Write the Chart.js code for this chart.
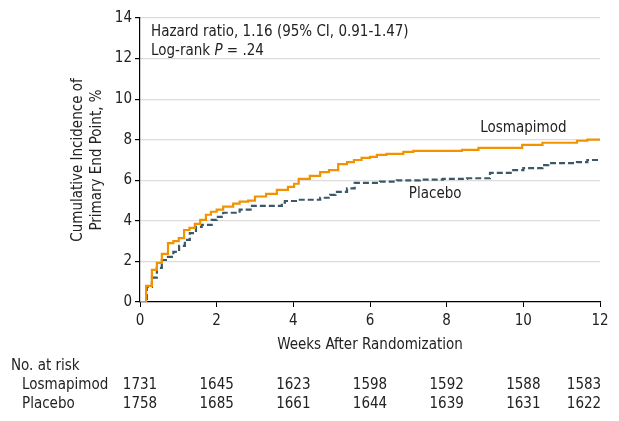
<!DOCTYPE html>
<html>
<head>
<meta charset="utf-8">
<script src="https://cdn.jsdelivr.net/npm/chart.js@4/dist/chart.umd.min.js"></script>
<style>
  html, body { margin: 0; padding: 0; background: #fff; }
  #wrap { width: 619px; height: 421px; }
</style>
</head>
<body>
<div id="wrap"><canvas id="km"></canvas></div>
<script>
// step times (weeks) and cumulative incidence (%)
const losWeeks = [0, 0.16, 0.31, 0.44, 0.57, 0.73, 0.87, 1.01, 1.15, 1.29, 1.43, 1.57, 1.72, 1.85, 2.0, 2.17, 2.43, 2.6, 2.82, 3.0, 3.29, 3.57, 3.86, 4.02, 4.14, 4.43, 4.7, 4.93, 5.17, 5.4, 5.58, 5.78, 6.0, 6.18, 6.43, 6.87, 7.13, 8.4, 8.83, 9.97, 10.5, 11.4, 11.67, 12];
const losPct   = [0, 0.79, 1.58, 1.93, 2.37, 2.9, 3.0, 3.15, 3.55, 3.65, 3.85, 4.05, 4.3, 4.45, 4.55, 4.7, 4.85, 4.95, 5.0, 5.2, 5.33, 5.53, 5.68, 5.83, 6.07, 6.22, 6.4, 6.5, 6.8, 6.9, 7.0, 7.1, 7.15, 7.25, 7.3, 7.4, 7.45, 7.5, 7.6, 7.75, 7.85, 7.95, 8.0, 8.0];

const plaWeeks = [0, 0.18, 0.31, 0.44, 0.57, 0.73, 0.87, 1.02, 1.17, 1.3, 1.46, 1.61, 1.87, 2.0, 2.17, 2.6, 2.92, 3.7, 3.78, 4.1, 4.7, 4.96, 5.1, 5.4, 5.6, 6.26, 6.7, 7.3, 7.9, 8.53, 9.13, 9.7, 10.0, 10.5, 10.65, 11.4, 11.67, 12];
const plaPct   = [0, 0.75, 1.2, 1.68, 2.07, 2.22, 2.47, 2.77, 3.06, 3.4, 3.7, 3.8, 4.05, 4.2, 4.4, 4.55, 4.74, 4.9, 4.98, 5.04, 5.14, 5.28, 5.43, 5.6, 5.87, 5.93, 6.0, 6.03, 6.07, 6.1, 6.37, 6.5, 6.6, 6.75, 6.85, 6.9, 7.0, 7.0];

// number at risk table
const riskWeeks = [0, 2, 4, 6, 8, 10, 12];
const losRisk = [1731, 1645, 1623, 1598, 1592, 1588, 1583];
const plaRisk = [1758, 1685, 1661, 1644, 1639, 1631, 1622];

const FONT = '"Liberation Sans Narrow", "DejaVu Sans Condensed", sans-serif';
const TXT = '#222';
const ORANGE = '#f39200';
const SLATE = '#3b5866';

const toPoints = (xs, ys) => xs.map((x, i) => ({ x: x, y: ys[i] }));

const extras = {
  id: 'extras',
  afterDraw(chart) {
    const c = chart.ctx;
    const xs = chart.scales.x, ys = chart.scales.y;
    c.save();
    c.fillStyle = TXT;
    c.textBaseline = 'alphabetic';

    // statistics box
    c.font = '15px ' + FONT;
    c.textAlign = 'left';
    c.fillText('Hazard ratio, 1.16 (95% CI, 0.91-1.47)', 151, 36);
    let x = 151;
    const p1 = 'Log-rank ';
    c.fillText(p1, x, 55);
    x += c.measureText(p1).width;
    c.font = 'italic 15px ' + FONT;
    c.fillText('P', x, 55);
    x += c.measureText('P').width;
    c.font = '15px ' + FONT;
    c.fillText(' = .24', x, 55);

    // curve labels
    c.textAlign = 'center';
    c.fillText('Losmapimod', xs.getPixelForValue(10.0), ys.getPixelForValue(8.4));
    c.fillText('Placebo', xs.getPixelForValue(7.7), ys.getPixelForValue(5.15));

    // at-risk table
    c.textAlign = 'left';
    c.fillText('No. at risk', 11, 370);
    c.fillText('Losmapimod', 22, 389);
    c.fillText('Placebo', 22, 408);
    riskWeeks.forEach((w, i) => {
      let px = xs.getPixelForValue(w);
      if (i === riskWeeks.length - 1) px = 584;
      c.textAlign = 'center';
      c.fillText(String(losRisk[i]), px, 389);
      c.fillText(String(plaRisk[i]), px, 408);
    });
    c.restore();
  }
};

new Chart(document.getElementById('km'), {
  type: 'line',
  data: {
    datasets: [{
      label: 'Losmapimod',
      data: toPoints(losWeeks, losPct),
      stepped: 'before',
      borderColor: ORANGE,
      borderWidth: 2.2,
      pointRadius: 0,
      fill: false
    }, {
      label: 'Placebo',
      data: toPoints(plaWeeks, plaPct),
      stepped: 'before',
      borderColor: SLATE,
      borderWidth: 2.2,
      borderDash: [6, 3],
      pointRadius: 0,
      fill: false
    }]
  },
  plugins: [extras],
  options: {
    responsive: true,
    maintainAspectRatio: false,
    animation: false,
    layout: { padding: { top: 18, right: 19, left: 69, bottom: 67 } },
    plugins: { legend: { display: false }, tooltip: { enabled: false } },
    scales: {
      x: {
        type: 'linear',
        min: 0, max: 12,
        ticks: { stepSize: 2, color: TXT, font: { family: FONT, size: 15 }, padding: 5 },
        grid: { drawOnChartArea: false, tickColor: '#000', tickLength: 5 },
        border: { color: '#000', width: 1.2 },
        title: { display: true, text: 'Weeks After Randomization', color: TXT, font: { family: FONT, size: 15 }, padding: { top: 4, bottom: 0 } },
        afterFit(s) { s.height = 52; }
      },
      y: {
        min: 0, max: 14,
        ticks: { stepSize: 2, color: TXT, font: { family: FONT, size: 15 }, padding: 3 },
        grid: {
          color: ctx => ctx.tick && ctx.tick.value === 0 ? 'rgba(0,0,0,0)' : '#dcdcdc',
          tickColor: '#000', tickLength: 5, lineWidth: 1.2
        },
        border: { color: '#000', width: 1.2 },
        title: { display: true, text: ['Cumulative Incidence of', 'Primary End Point, %'], color: TXT, font: { family: FONT, size: 15, lineHeight: 1.25 }, padding: 0 },
        afterFit(s) { s.width = 71; }
      }
    }
  }
});
</script>
</body>
</html>
